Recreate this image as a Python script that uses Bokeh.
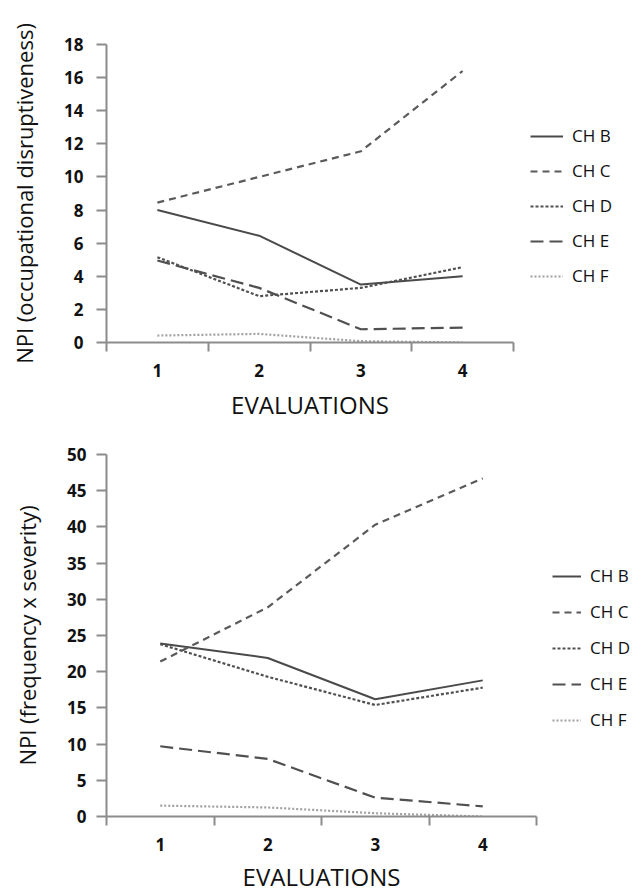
from bokeh.plotting import figure
from bokeh.models import Range1d, FixedTicker, Legend, LegendItem
from bokeh.layouts import column
from bokeh.embed import file_html
from bokeh.resources import INLINE

evaluations = [1, 2, 3, 4]
tick_labels = ["1", "2", "3", "4"]
series_names = ["CH B", "CH C", "CH D", "CH E", "CH F"]

# Top chart: NPI (occupational disruptiveness)
occ_b = [8.0, 6.45, 3.5, 4.0]
occ_c = [8.45, 10.0, 11.55, 16.4]
occ_d = [5.15, 2.8, 3.3, 4.55]
occ_e = [4.95, 3.3, 0.8, 0.9]
occ_f = [0.42, 0.52, 0.08, 0.0]

# Bottom chart: NPI (frequency x severity)
fs_b = [23.9, 21.9, 16.2, 18.8]
fs_c = [21.4, 28.9, 40.3, 46.7]
fs_d = [23.8, 19.3, 15.4, 17.8]
fs_e = [9.7, 7.95, 2.6, 1.4]
fs_f = [1.5, 1.25, 0.45, 0.0]

styles = {
    "CH B": dict(color="#4a4a4a", dash="solid", width=2),
    "CH C": dict(color="#5a5a5a", dash="7 5", width=2.2),
    "CH D": dict(color="#505050", dash="3 2", width=2.2),
    "CH E": dict(color="#505050", dash="13 6", width=2.2),
    "CH F": dict(color="#a0a0a0", dash="2 2", width=2.2),
}

FONT = "Open Sans"


def make_chart(series, ymax, ystep, ylabel, frame_w, frame_h, b_top, b_bottom, b_left,
               b_right, legend_dx, legend_dy, legend_spacing, glyph_w, tick_standoff,
               xlabel_standoff):
    p = figure(frame_width=frame_w, frame_height=frame_h, output_backend="svg",
               toolbar_location=None,
               x_range=Range1d(0.5, 4.5), y_range=Range1d(0, ymax),
               min_border_top=b_top, min_border_left=b_left,
               min_border_right=b_right, min_border_bottom=b_bottom)
    p.outline_line_color = None
    p.xgrid.visible = False
    p.ygrid.visible = False
    p.background_fill_color = "white"
    p.border_fill_color = "white"

    items = []
    for name, vals in zip(series_names, series):
        st = styles[name]
        r = p.line(evaluations, vals, line_color=st["color"], line_width=st["width"],
                   line_dash=st["dash"])
        items.append(LegendItem(label=name, renderers=[r]))

    xa = p.xaxis[0]
    xa.ticker = FixedTicker(ticks=evaluations, minor_ticks=[0.5, 1.5, 2.5, 3.5, 4.5])
    xa.major_label_overrides = {e: t for e, t in zip(evaluations, tick_labels)}
    xa.major_tick_line_color = None
    xa.major_tick_out = 0
    xa.major_tick_in = 0
    xa.minor_tick_line_color = "#8c8c8c"
    xa.minor_tick_line_width = 2
    xa.minor_tick_out = 9
    xa.minor_tick_in = 0
    xa.axis_line_color = "#8c8c8c"
    xa.axis_line_width = 2
    xa.major_label_text_font = FONT
    xa.major_label_text_font_size = "17px"
    xa.major_label_text_font_style = "bold"
    xa.major_label_text_color = "#111111"
    xa.major_label_standoff = 12
    xa.axis_label = "EVALUATIONS"
    xa.axis_label_text_font = FONT
    xa.axis_label_text_font_size = "24px"
    xa.axis_label_text_font_style = "normal"
    xa.axis_label_text_color = "#111111"
    xa.axis_label_standoff = xlabel_standoff

    ya = p.yaxis[0]
    ya.ticker = FixedTicker(ticks=list(range(0, ymax + 1, ystep)))
    ya.minor_tick_line_color = None
    ya.major_tick_line_color = "#8c8c8c"
    ya.major_tick_line_width = 2
    ya.major_tick_out = 10
    ya.major_tick_in = 0
    ya.axis_line_color = "#8c8c8c"
    ya.axis_line_width = 2
    ya.major_label_text_font = FONT
    ya.major_label_text_font_size = "17px"
    ya.major_label_text_font_style = "bold"
    ya.major_label_text_color = "#111111"
    ya.major_label_standoff = tick_standoff
    ya.axis_label = ylabel
    ya.axis_label_text_font = FONT
    ya.axis_label_text_font_size = "22px"
    ya.axis_label_text_font_style = "normal"
    ya.axis_label_text_color = "#111111"
    ya.axis_label_standoff = 22

    legend = Legend(items=items, location=(legend_dx, legend_dy),
                    glyph_width=glyph_w, glyph_height=22, label_height=22,
                    label_standoff=9, spacing=legend_spacing, padding=0, margin=0,
                    border_line_color=None, background_fill_alpha=0,
                    label_text_font=FONT, label_text_font_size="17px",
                    label_text_color="#111111")
    p.add_layout(legend, "right")
    return p


p1 = make_chart([occ_b, occ_c, occ_d, occ_e, occ_f], 18, 2,
                "NPI (occupational disruptiveness)",
                frame_w=407, frame_h=298, b_top=44, b_bottom=86, b_left=106, b_right=126,
                legend_dx=17, legend_dy=55, legend_spacing=12, glyph_w=33,
                tick_standoff=13, xlabel_standoff=8)
p2 = make_chart([fs_b, fs_c, fs_d, fs_e, fs_f], 50, 5,
                "NPI (frequency x severity)",
                frame_w=430, frame_h=362, b_top=26, b_bottom=79, b_left=103, b_right=106,
                legend_dx=16, legend_dy=85, legend_spacing=13, glyph_w=29,
                tick_standoff=10, xlabel_standoff=6)

layout = column(p1, p2, spacing=0)

with open("out.html", "w") as f:
    f.write(file_html(layout, INLINE))
